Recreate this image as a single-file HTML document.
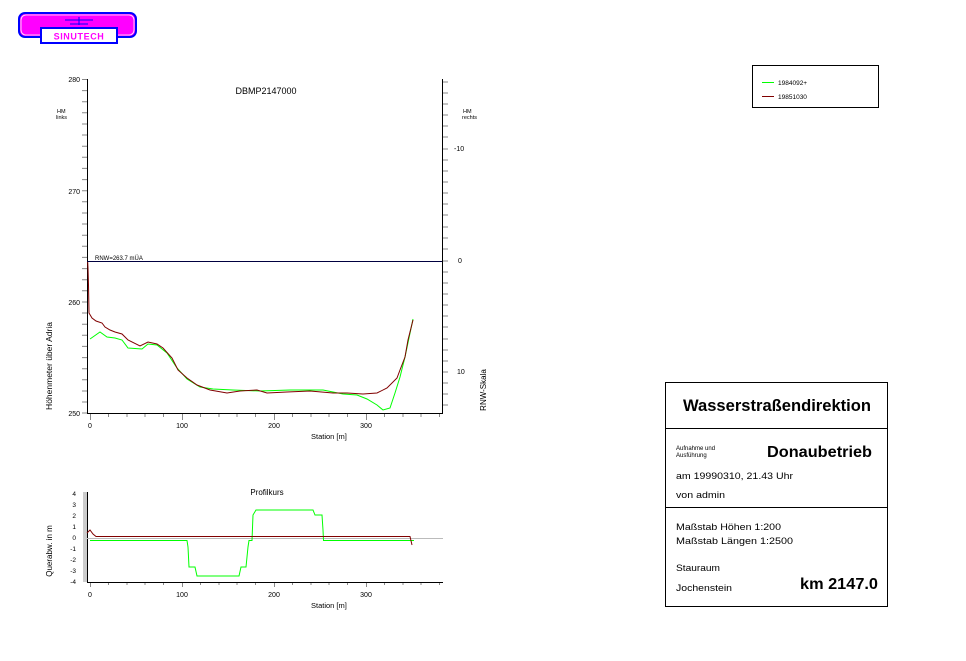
<!DOCTYPE html>
<html><head><meta charset="utf-8"><style>
html,body{margin:0;padding:0;background:#fff;}
svg{display:block;font-family:"Liberation Sans",Arial,sans-serif;}
</style></head><body>
<svg width="966" height="661" viewBox="0 0 966 661" xmlns="http://www.w3.org/2000/svg">
<rect x="19" y="13" width="117" height="24" rx="6" fill="#ff00ff" stroke="#0000ff" stroke-width="2"/>
<rect x="21" y="15" width="113" height="20" rx="5" fill="none" stroke="#fff" stroke-width="0.8"/>
<path d="M65 20h28M79 17v8M70 24h18" stroke="#0000ff" stroke-width="1"/>
<rect x="41" y="28" width="76" height="15" fill="#fff" stroke="#0000ff" stroke-width="2"/>
<text x="79" y="39.5" text-anchor="middle" font-size="9" font-weight="bold" fill="#ff00ff" letter-spacing="0.6">SINUTECH</text>

<g stroke="#000" stroke-width="1" fill="none">
<line x1="87.5" y1="79" x2="87.5" y2="413"/>
<line x1="87" y1="413.5" x2="443" y2="413.5"/>
<line x1="442.5" y1="79" x2="442.5" y2="413"/>
</g>
<g stroke="#888" stroke-width="1">
<path d="M82 79.5h5M82 90.6h5M82 101.7h5M82 112.8h5M82 124h5M82 135h5M82 146.2h5M82 157.3h5M82 168.4h5M82 179.6h5M82 190.7h5M82 201.8h5M82 213h5M82 224h5M82 235.2h5M82 246.3h5M82 257.4h5M82 268.6h5M82 279.7h5M82 290.8h5M82 302h5M82 313h5M82 324.2h5M82 335.3h5M82 346.4h5M82 357.6h5M82 368.7h5M82 379.8h5M82 391h5M82 402h5M82 413h5"/>
<path d="M443 82h5M443 93h5M443 104h5M443 115h5M443 126h5M443 137h5M443 149h5M443 160h5M443 171h5M443 182h5M443 193h5M443 204h5M443 215h5M443 227h5M443 238h5M443 249h5M443 261h5M443 272h5M443 283h5M443 294h5M443 305h5M443 316h5M443 327h5M443 339h5M443 350h5M443 361h5M443 372h5M443 383h5M443 394h5M443 405h5"/>
<path d="M90.5 414v6M108.5 414v3M127 414v3M145 414v3M163.5 414v3M182.5 414v6M200.5 414v3M219 414v3M237 414v3M255.5 414v3M274.5 414v6M292.5 414v3M311 414v3M329 414v3M347.5 414v3M366.5 414v6M384.5 414v3M403 414v3M421 414v3M439.5 414v3"/>
</g>
<g font-size="7" fill="#000">
<text x="80" y="82" text-anchor="end">280</text>
<text x="80" y="194" text-anchor="end">270</text>
<text x="80" y="305" text-anchor="end">260</text>
<text x="80" y="416" text-anchor="end">250</text>
<text x="454" y="151">-10</text>
<text x="458" y="263">0</text>
<text x="457" y="374">10</text>
<text x="90" y="428" text-anchor="middle">0</text>
<text x="182" y="428" text-anchor="middle">100</text>
<text x="274" y="428" text-anchor="middle">200</text>
<text x="366" y="428" text-anchor="middle">300</text>
<text x="57" y="113" font-size="5.5">HM</text><text x="56" y="119" font-size="5.5">links</text>
<text x="463" y="113" font-size="5.5">HM</text><text x="462" y="119" font-size="5.5">rechts</text>
<text x="95" y="260" font-size="6">RNW=263.7 mÜA</text>
<text x="311" y="439" font-size="7.5">Station [m]</text>
</g>
<text x="266" y="94" text-anchor="middle" font-size="9">DBMP2147000</text>
<text transform="translate(52,366) rotate(-90)" text-anchor="middle" font-size="8.5">Höhenmeter über Adria</text>
<text transform="translate(486,390) rotate(-90)" text-anchor="middle" font-size="8">RNW-Skala</text>
<line x1="87" y1="261.5" x2="442" y2="261.5" stroke="#000040" stroke-width="1"/>

<polyline fill="none" stroke="#00ff00" stroke-width="1" points="90,339 100,332 107,337 115,338 122,340 128,348 142,349 148,344 157,345 167,353 177,368 187,379 200,387 213,389 233,390 260,391 290,390 323,390 343,394 357,395 367,399 377,405 383,410 390,408 395,393 400,377 405,357 413,319"/>
<polyline fill="none" stroke="#800000" stroke-width="1" points="87.7,262 88,268 88.5,285 89,313 92,318 96,321 102,323 105,327 110,330 115,332 122,334 128,340 140,346 148,342 157,344 163,348 172,358 178,370 187,378 197,385 210,390 227,393 240,391 257,390 267,393 287,392 310,391 333,393 347,393 363,394 377,393 387,388 397,378 400,370 405,357 408,340 413,320"/>

<rect x="752.5" y="65.5" width="126" height="42" fill="#fff" stroke="#000"/>
<line x1="762" y1="82.5" x2="774" y2="82.5" stroke="#00ff00" stroke-width="1"/>
<line x1="762" y1="96.5" x2="774" y2="96.5" stroke="#800000" stroke-width="1"/>
<text x="778" y="85" font-size="6.5">1984092+</text>
<text x="778" y="99" font-size="6.5">19851030</text>

<rect x="83" y="492" width="4" height="90" fill="#ccc"/>
<g stroke="#000" stroke-width="1" fill="none">
<line x1="87.5" y1="492" x2="87.5" y2="583"/>
<line x1="87" y1="582.5" x2="443" y2="582.5"/>
</g>
<line x1="87" y1="538.5" x2="443" y2="538.5" stroke="#bbb" stroke-width="1"/>
<g stroke="#888" stroke-width="1">
<path d="M90.5 583v4M108.5 583v2M127 583v2M145 583v2M163.5 583v2M182.5 583v4M200.5 583v2M219 583v2M237 583v2M255.5 583v2M274.5 583v4M292.5 583v2M311 583v2M329 583v2M347.5 583v2M366.5 583v4M384.5 583v2M403 583v2M421 583v2M439.5 583v2"/>
</g>
<g font-size="6.5" text-anchor="end">
<text x="76" y="496">4</text><text x="76" y="507">3</text><text x="76" y="518">2</text><text x="76" y="529">1</text><text x="76" y="540">0</text><text x="76" y="551">-1</text><text x="76" y="562">-2</text><text x="76" y="573">-3</text><text x="76" y="584">-4</text>
</g>
<g font-size="7" text-anchor="middle">
<text x="90" y="597">0</text><text x="182" y="597">100</text><text x="274" y="597">200</text><text x="366" y="597">300</text>
</g>
<text x="267" y="495" text-anchor="middle" font-size="8">Profilkurs</text>
<text x="311" y="608" font-size="7.5">Station [m]</text>
<text transform="translate(52,551) rotate(-90)" text-anchor="middle" font-size="8">Querabw. in m</text>
<polyline fill="none" stroke="#00ff00" stroke-width="1" points="90,540.5 187,540.5 188,547 189,567 195,567 197,576 239,576 241,567 246,567 248,547 249,540.5 252,540.5 253,515 256,510 313,510 315,515 322,515 323,530 323.5,540.5 414,540.5"/>
<polyline fill="none" stroke="#800000" stroke-width="1" points="87,533 90,530 93,534 96,536.5 410,536.5 412,545"/>

<rect x="665.5" y="382.5" width="222" height="224" fill="#fff" stroke="#000"/>
<line x1="665" y1="428.5" x2="888" y2="428.5" stroke="#000"/>
<line x1="665" y1="507.5" x2="888" y2="507.5" stroke="#000"/>
<text x="777" y="411" text-anchor="middle" font-size="17" font-weight="bold" textLength="188" lengthAdjust="spacingAndGlyphs">Wasserstraßendirektion</text>
<text x="676" y="450" font-size="6">Aufnahme und</text>
<text x="676" y="457" font-size="6">Ausführung</text>
<text x="767" y="457" font-size="16" font-weight="bold" textLength="105" lengthAdjust="spacingAndGlyphs">Donaubetrieb</text>
<text x="676" y="479" font-size="9.5" textLength="117" lengthAdjust="spacingAndGlyphs">am 19990310, 21.43 Uhr</text>
<text x="676" y="498" font-size="9.5" textLength="49" lengthAdjust="spacingAndGlyphs">von admin</text>
<text x="676" y="530" font-size="9.5" textLength="105" lengthAdjust="spacingAndGlyphs">Maßstab Höhen  1:200</text>
<text x="676" y="544" font-size="9.5" textLength="117" lengthAdjust="spacingAndGlyphs">Maßstab Längen  1:2500</text>
<text x="676" y="571" font-size="9.5" textLength="44" lengthAdjust="spacingAndGlyphs">Stauraum</text>
<text x="676" y="591" font-size="9.5" textLength="56" lengthAdjust="spacingAndGlyphs">Jochenstein</text>
<text x="800" y="589" font-size="16" font-weight="bold" textLength="78" lengthAdjust="spacingAndGlyphs">km 2147.0</text>
</svg>
</body></html>
